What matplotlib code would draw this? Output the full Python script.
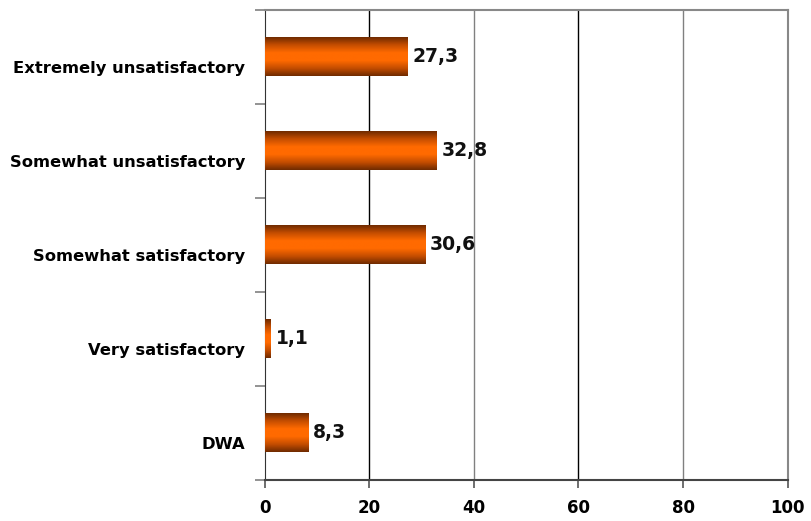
import numpy as np
import matplotlib
matplotlib.use("Agg")
import matplotlib.pyplot as plt
import matplotlib.transforms as mtransforms
from matplotlib.colors import LinearSegmentedColormap

categories = ["DWA", "Very satisfactory", "Somewhat satisfactory",
              "Somewhat unsatisfactory", "Extremely unsatisfactory"]
values = [8.3, 1.1, 30.6, 32.8, 27.3]
value_labels = ["8,3", "1,1", "30,6", "32,8", "27,3"]
xticks = [0, 20, 40, 60, 80, 100]

fig = plt.figure(figsize=(8.12, 5.21), dpi=100)
ax = fig.add_axes([0.326, 0.079, 0.644, 0.902])

ypos = np.arange(len(categories))
bar_h = 0.41
ax.set_xlim(0, 100)
ax.set_ylim(-0.5, len(categories) - 0.5)

# cylinder-like shading across each bar's thickness
cmap = LinearSegmentedColormap.from_list(
    "tube", ["#6e2a00", "#c44d00", "#ff6a00", "#ff6a00", "#c44d00", "#6e2a00"])
grad = np.linspace(0, 1, 256).reshape(-1, 1)
for y, v in zip(ypos, values):
    ax.imshow(grad, cmap=cmap, aspect="auto", interpolation="bilinear",
              extent=(0, v, y - bar_h / 2, y + bar_h / 2), zorder=3)

for y, v, lab in zip(ypos, values, value_labels):
    ax.text(v + 1.0, y, lab, va="center", ha="left", fontsize=13.5,
            fontweight="bold", color="#111111", zorder=4)

# vertical gridlines
for i, t in enumerate(xticks[1:]):
    ax.axvline(t, color="#000000" if i % 2 == 0 else "#808080", lw=1.0, zorder=1)

ax.set_xticks(xticks)
ax.set_xticklabels([str(t) for t in xticks], fontsize=12, fontweight="bold")
ax.set_yticks(ypos)
ax.set_yticklabels(categories, fontsize=11.8, fontweight="bold")
ax.tick_params(axis="y", length=0, pad=14)
shift = mtransforms.ScaledTranslation(0, -10 / 100, fig.dpi_scale_trans)
for lbl in ax.get_yticklabels():
    lbl.set_transform(lbl.get_transform() + shift)
ax.set_yticks(np.arange(-0.5, len(categories), 1.0), minor=True)
ax.tick_params(axis="y", which="minor", length=7, color="#808080", width=1.2)
ax.tick_params(axis="x", length=6, color="#555555", width=1.2, pad=8)

for s in ["top", "right"]:
    ax.spines[s].set_color("#888888")
    ax.spines[s].set_linewidth(1.5)
ax.spines["left"].set_color("#333333")
ax.spines["bottom"].set_color("#444444")
ax.spines["bottom"].set_linewidth(1.5)

fig.savefig("out.png", dpi=100)
